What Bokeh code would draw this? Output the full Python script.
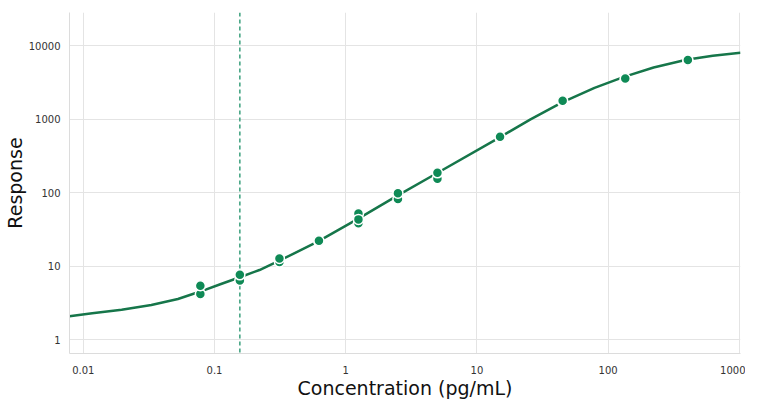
from bokeh.plotting import figure
from bokeh.models import FixedTicker, CustomJSTickFormatter, Span, ColumnDataSource
from bokeh.embed import file_html
from bokeh.resources import INLINE

# Replicate measurements (concentration pg/mL, response)
conc = [0.078, 0.078, 0.156, 0.156, 0.3125, 0.3125, 0.625, 0.625,
        1.25, 1.25, 1.25, 2.5, 2.5, 5, 5, 15, 15, 45, 45, 135, 135, 405, 405]
resp = [4.2, 5.45, 6.4, 7.65, 11.4, 12.8, 21.6, 22.2,
        52.0, 38.4, 43.4, 82, 98.5, 155, 186, 557, 574, 1715, 1770, 3450, 3556, 6150, 6340]

# Fitted curve
curve_conc = [0.00785, 0.0117, 0.0196, 0.033, 0.0526, 0.0769, 0.1107, 0.156, 0.22,
              0.312, 0.612, 1.22, 2.44, 4.87, 14.7, 25.6, 44.6, 78.7, 132, 222,
              394, 627, 1020]
curve_resp = [2.1, 2.3, 2.57, 2.98, 3.6, 4.5, 5.7, 7.1, 8.9,
              11.9, 21.6, 43.4, 90, 181, 557, 993, 1690, 2660, 3750, 5030,
              6420, 7280, 7950]

lloq = 0.156

x_ticks = [0.01, 0.1, 1, 10, 100, 1000]
x_tick_labels = ["0.01", "0.1", "1", "10", "100", "1000"]
y_ticks = [1, 10, 100, 1000, 10000]
y_tick_labels = ["1", "10", "100", "1000", "10000"]

p = figure(width=745, height=401, x_axis_type="log", y_axis_type="log",
           x_range=(0.00785, 1020), y_range=(0.653, 28100),
           output_backend="svg", toolbar_location=None,
           min_border_left=67, min_border_right=5, min_border_top=12, min_border_bottom=40,
           x_axis_label="Concentration (pg/mL)", y_axis_label="Response")
p.outline_line_color = None
p.background_fill_color = "white"

code = """
for (let i = 0; i < tv.length; i++) {
  if (Math.abs(Math.log10(tick) - Math.log10(tv[i])) < 1e-6) return tl[i];
}
return String(tick);
"""
p.xaxis.ticker = FixedTicker(ticks=x_ticks, minor_ticks=[])
p.yaxis.ticker = FixedTicker(ticks=y_ticks, minor_ticks=[])
p.xaxis.formatter = CustomJSTickFormatter(args=dict(tv=x_ticks, tl=x_tick_labels), code=code)
p.yaxis.formatter = CustomJSTickFormatter(args=dict(tv=y_ticks, tl=y_tick_labels), code=code)

for ax in (p.xaxis[0], p.yaxis[0]):
    ax.axis_line_color = "#dcdcdc"
    ax.major_tick_line_color = None
    ax.minor_tick_line_color = None
    ax.major_label_text_font = "DejaVu Sans"
    ax.major_label_text_font_size = "10px"
    ax.major_label_text_color = "#333333"
    ax.axis_label_text_font = "DejaVu Sans"
    ax.axis_label_text_font_size = "19px"
    ax.axis_label_text_font_style = "normal"
    ax.axis_label_text_color = "#111111"

p.xaxis.major_label_standoff = 6
p.xaxis.axis_label_standoff = 0
p.yaxis.major_label_standoff = 3
p.yaxis.axis_label_standoff = 0

p.xgrid.grid_line_color = "#e4e4e4"
p.ygrid.grid_line_color = "#e4e4e4"

span = Span(location=lloq, dimension="height", line_color="#3a9f7c",
            line_dash="4 3", line_width=1.5, level="underlay")
p.add_layout(span)

p.line(curve_conc, curve_resp, line_color="#16764a", line_width=2.5)

src = ColumnDataSource(data=dict(x=conc, y=resp))
p.scatter("x", "y", source=src, size=10, fill_color="#0f8a56",
          line_color="white", line_width=1.5)

open("out.html", "w").write(file_html(p, INLINE))
